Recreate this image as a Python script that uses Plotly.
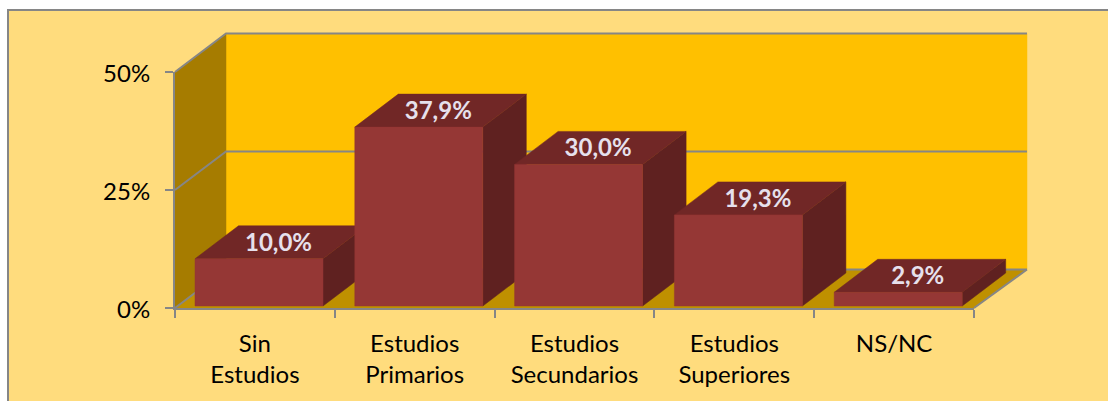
import plotly.graph_objects as go

categories = ["Sin<br>Estudios", "Estudios<br>Primarios", "Estudios<br>Secundarios", "Estudios<br>Superiores", "NS/NC"]
values = [10.0, 37.9, 30.0, 19.3, 2.9]
value_labels = ["10,0%", "37,9%", "30,0%", "19,3%", "2,9%"]
y_ticks = [0, 25, 50]
y_tick_labels = ["0%", "25%", "50%"]

W, H = 1108, 401
X0, X1, Y0, Y50 = 175, 974, 308, 72
PX_X = (X1 - X0) / 5
PX_Y = (Y0 - Y50) / 50

# depth projection of the 3-D box, in axis units
WALL_DX, WALL_DY = 51 / PX_X, 38.5 / PX_Y
WALL_R = 5 + 53 / PX_X
BAR_DX, BAR_DY = 43.5 / PX_X, 33 / PX_Y
BAR_PAD, BAR_W, BAR_BASE = 20 / PX_X, 128 / PX_X, 2 / PX_Y
LABEL_DX, LABEL_DY = 19.5 / PX_X, 14 / PX_Y

PANEL, GRID = "#FFDC7D", "#868686"
WALL, SIDE, FLOOR = "#FFC000", "#A67C00", "#BF9000"
FRONT, TOP, RIGHT = "#953735", "#712726", "#5F2120"
LABEL = "#E6E0EC"
FONT = "Lato, Carlito, Calibri, sans-serif"

fig = go.Figure()


def poly(xs, ys, color):
    fig.add_trace(go.Scatter(
        x=xs + xs[:1], y=ys + ys[:1], mode="lines", fill="toself", fillcolor=color,
        line=dict(width=0.5, color=color), hoverinfo="skip", showlegend=False))


poly([WALL_DX, WALL_R, WALL_R, WALL_DX], [WALL_DY, WALL_DY, 50 + WALL_DY, 50 + WALL_DY], WALL)
poly([0, WALL_DX, WALL_DX, 0], [0, WALL_DY, 50 + WALL_DY, 50], SIDE)
poly([0, 5, WALL_R, WALL_DX], [0, 0, WALL_DY, WALL_DY], FLOOR)

for v in y_ticks:
    fig.add_trace(go.Scatter(
        x=[0, WALL_DX, WALL_R], y=[v, v + WALL_DY, v + WALL_DY], mode="lines",
        line=dict(color=GRID, width=2), hoverinfo="skip", showlegend=False))
fig.add_trace(go.Scatter(
    x=[5, WALL_R], y=[0, WALL_DY], mode="lines",
    line=dict(color=GRID, width=2), hoverinfo="skip", showlegend=False))

for i, v in enumerate(values):
    l = i + BAR_PAD
    r = l + BAR_W
    b = BAR_BASE
    t = b + v
    poly([r, r + BAR_DX, r + BAR_DX, r], [b, b + BAR_DY, t + BAR_DY, t], RIGHT)
    poly([l, r, r + BAR_DX, l + BAR_DX], [t, t, t + BAR_DY, t + BAR_DY], TOP)
    poly([l, r, r, l], [b, b, t, t], FRONT)

fig.add_trace(go.Scatter(
    x=[i + BAR_PAD + BAR_W / 2 + LABEL_DX for i in range(5)],
    y=[BAR_BASE + v + LABEL_DY for v in values],
    mode="text", text=value_labels, textposition="middle center",
    textfont=dict(family=FONT, size=24, color=LABEL, weight="bold"),
    hoverinfo="skip", showlegend=False))

# invisible trace that carries the visible axes
fig.add_trace(go.Scatter(x=[0, 5], y=[0, 50], xaxis="x2", yaxis="y2", mode="lines",
                         line=dict(width=0), hoverinfo="skip", showlegend=False))

fig.update_layout(
    width=W, height=H, margin=dict(l=0, r=0, t=0, b=0, autoexpand=False),
    paper_bgcolor="white", plot_bgcolor="rgba(0,0,0,0)", showlegend=False,
    # full-page axes on the same scale: carry the 3-D faces that overhang the axis box
    xaxis=dict(domain=[0, 1], range=[-X0 / PX_X, (W - X0) / PX_X], visible=False, fixedrange=True),
    yaxis=dict(domain=[0, 1], range=[(Y0 - H) / PX_Y, Y0 / PX_Y], visible=False, fixedrange=True),
    xaxis2=dict(
        domain=[X0 / W, X1 / W], range=[0, 5], anchor="y2", tickmode="array",
        tickvals=[i + 0.5 for i in range(5)], ticktext=categories, ticks="",
        showgrid=False, zeroline=False, showline=True, linecolor=GRID, linewidth=2,
        tickfont=dict(family=FONT, size=24, color="#000000"), ticklabelstandoff=13,
        minor=dict(tickmode="array", tickvals=list(range(6)), ticks="outside", ticklen=8,
                   tickcolor=GRID, tickwidth=2, showgrid=False),
        automargin=False, fixedrange=True),
    yaxis2=dict(
        domain=[(H - Y0) / H, (H - Y50) / H], range=[0, 50], anchor="x2", tickmode="array",
        tickvals=y_ticks, ticktext=y_tick_labels, ticks="outside", ticklen=8,
        tickcolor=GRID, tickwidth=2, showgrid=False, zeroline=False,
        showline=True, linecolor=GRID, linewidth=2, ticklabelstandoff=10, ticklabelshift=2,
        tickfont=dict(family=FONT, size=24, color="#000000"), automargin=False, fixedrange=True),
    shapes=[dict(type="rect", xref="paper", yref="paper", layer="below",
                 x0=8 / W, x1=1.05, y0=-0.05, y1=(H - 10) / H,
                 fillcolor=PANEL, line=dict(color=GRID, width=2))],
)

fig.write_html("out.html", config=dict(displayModeBar=False),
               post_script="document.body.style.margin='0';")
